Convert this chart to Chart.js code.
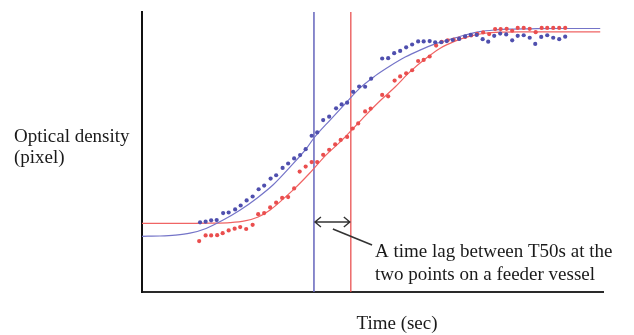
<!DOCTYPE html>
<html>
<head>
<meta charset="utf-8">
<script src="https://cdn.jsdelivr.net/npm/chart.js@4.4.0/dist/chart.umd.min.js"></script>
<style>
  html, body { margin: 0; padding: 0; background: #ffffff; }
  canvas { display: block; }
</style>
</head>
<body>
<canvas id="c" width="634" height="335"></canvas>
<script>
// ---- Data (time in arbitrary units 0..100, optical density 0..100) ----
const blueTime = [12.6,13.8,15.0,16.2,17.6,18.8,20.2,21.4,22.7,24.0,25.3,26.5,27.9,29.1,30.5,31.7,33.0,34.3,35.5,36.8,38.0,39.3,40.6,42.1,43.3,44.5,45.8,47.1,48.4,49.7,52.1,53.4,54.7,56.0,57.3,58.6,59.9,61.1,62.4,63.6,64.9,66.1,67.4,68.8,70.1,71.3,72.6,73.9,75.1,76.4,77.7,79.0,80.3,81.5,82.8,84.1,85.3,86.6,87.9,89.2,90.5,91.8];
const blueDensity = [24.9,25.1,25.6,25.7,28.2,28.4,29.5,30.9,32.7,34.1,36.7,38.0,40.5,41.7,44.3,45.9,47.7,48.9,51.0,55.8,57.0,61.4,62.6,65.6,67.0,67.6,71.5,73.4,73.3,76.2,83.4,83.5,85.3,86.1,87.4,88.4,89.5,89.5,89.6,89.2,89.2,89.6,90.0,90.4,91.3,91.8,91.8,90.3,89.4,91.5,92.3,92.0,89.9,91.5,91.7,90.8,88.6,91.1,91.7,90.8,90.3,91.2];
const redTime = [12.4,13.8,15.0,16.3,17.5,18.8,20.1,21.3,22.6,24.0,25.2,26.5,27.8,29.1,30.4,31.7,33.0,34.2,35.5,36.8,38.0,39.3,40.6,41.9,43.1,44.5,45.7,46.9,48.4,49.6,52.1,53.4,54.8,56.0,57.3,58.6,59.9,61.1,62.4,63.8,65.0,66.3,67.6,68.8,70.1,71.4,72.7,74.0,75.3,76.6,77.8,79.1,80.3,81.5,82.8,84.1,85.4,86.7,87.9,89.2,90.5,91.8];
const redDensity = [18.2,20.2,20.2,20.3,21.0,22.0,22.6,23.2,22.5,24.0,27.8,28.2,30.2,31.9,33.6,33.9,37.0,43.0,44.8,46.4,46.4,49.0,50.8,52.7,54.3,55.4,58.4,60.2,64.5,65.5,70.4,69.9,75.5,77.0,78.1,79.2,82.5,82.9,84.1,88.0,89.3,89.9,90.1,90.5,91.1,91.6,92.2,92.7,92.1,93.9,93.9,94.0,93.3,94.3,94.3,94.0,92.8,94.3,94.3,94.3,94.3,94.3];

// fitted curves
const blueFitTime = [0,3.9,7.2,10.4,13.9,17.6,21.3,25.0,28.4,32.1,35.6,37.3,40.8,44.0,47.3,50.5,53.8,57.1,60.3,63.6,66.8,70.1,73.3,76.6,79.8,84.2,90.7,99.4];
const blueFitDensity = [19.9,20.0,20.3,21.0,22.7,25.7,29.3,33.6,38.2,44.6,51.1,55.0,61.4,67.1,72.9,77.1,80.7,83.9,86.4,88.6,90.2,91.8,93.0,93.6,93.9,94.0,94.1,94.1];
const redFitTime = [0,8.2,14.8,19.1,22.3,25.2,27.8,30.4,33.2,36.4,39.9,43.0,45.3,48.4,51.6,54.9,58.1,61.4,64.6,67.9,71.2,74.4,77.7,82.0,90.7,99.4];
const redFitDensity = [24.5,24.5,24.6,24.8,25.4,26.8,29.3,32.9,37.1,42.5,48.9,53.6,57.5,62.9,68.2,73.2,78.6,83.2,87.0,89.6,91.4,92.4,92.8,92.9,92.9,92.9];

// T50 times of the two points
const t50Blue = 37.3;
const t50Red = 45.3;

const yLabelLines = ["Optical density", "(pixel)"];
const xLabel = "Time (sec)";
const noteLines = ["A time lag between T50s at the", "two points on a feeder vessel"];

const toPts = (xs, ys) => xs.map((x, i) => ({ x: x, y: ys[i] }));

const BLUE_DOT = '#4f4fae';
const RED_DOT = '#ea4e4e';
const BLUE_LINE = '#7474c8';
const RED_LINE = '#f06464';
const FONT = '19px "Liberation Serif", "Times New Roman", serif';

const annotations = {
  id: 'annotations',
  afterDatasetsDraw(chart) {
    const { ctx, scales: { x, y } } = chart;
    ctx.save();
    // double-headed arrow between T50 lines
    const ay = y.getPixelForValue(25.0);
    const x1 = x.getPixelForValue(t50Blue) + 1;
    const x2 = x.getPixelForValue(t50Red) - 1;
    ctx.strokeStyle = '#333333';
    ctx.lineWidth = 1.4;
    ctx.beginPath();
    ctx.moveTo(x1, ay); ctx.lineTo(x2, ay);
    ctx.moveTo(x1 + 6, ay - 5); ctx.lineTo(x1, ay); ctx.lineTo(x1 + 6, ay + 5);
    ctx.moveTo(x2 - 6, ay - 5); ctx.lineTo(x2, ay); ctx.lineTo(x2 - 6, ay + 5);
    ctx.stroke();
    // leader line
    ctx.lineWidth = 1.6;
    ctx.beginPath();
    ctx.moveTo(x.getPixelForValue(41.4), y.getPixelForValue(22.5));
    ctx.lineTo(x.getPixelForValue(49.9), y.getPixelForValue(16.8));
    ctx.stroke();
    // texts
    ctx.fillStyle = '#1a1a1a';
    ctx.font = FONT;
    ctx.textBaseline = 'middle';
    ctx.textAlign = 'left';
    ctx.fillText(noteLines[0], 375, 252);
    ctx.fillText(noteLines[1], 375, 275);
    ctx.fillText(yLabelLines[0], 14, 137);
    ctx.fillText(yLabelLines[1], 14, 158);
    ctx.textAlign = 'center';
    ctx.fillText(xLabel, 397, 324);
    ctx.restore();
  }
};

new Chart(document.getElementById('c'), {
  type: 'scatter',
  data: {
    datasets: [
      { data: toPts(blueTime, blueDensity), backgroundColor: BLUE_DOT, borderColor: BLUE_DOT, pointRadius: 2.1, pointBorderWidth: 0, showLine: false },
      { data: toPts(redTime, redDensity), backgroundColor: RED_DOT, borderColor: RED_DOT, pointRadius: 2.1, pointBorderWidth: 0, showLine: false },
      { data: toPts(blueFitTime, blueFitDensity), borderColor: BLUE_LINE, borderWidth: 1.2, pointRadius: 0, showLine: true, tension: 0.4, cubicInterpolationMode: 'monotone' },
      { data: toPts(redFitTime, redFitDensity), borderColor: RED_LINE, borderWidth: 1.2, pointRadius: 0, showLine: true, tension: 0.4, cubicInterpolationMode: 'monotone' },
      { data: [{ x: t50Blue, y: 0 }, { x: t50Blue, y: 100 }], borderColor: '#6464bc', borderWidth: 1.5, pointRadius: 0, showLine: true },
      { data: [{ x: t50Red, y: 0 }, { x: t50Red, y: 100 }], borderColor: '#e84444', borderWidth: 1.2, pointRadius: 0, showLine: true }
    ]
  },
  options: {
    responsive: false,
    devicePixelRatio: 1,
    animation: false,
    layout: { padding: { left: 142, right: 31, top: 12, bottom: 43 } },
    plugins: { legend: { display: false }, tooltip: { enabled: false } },
    scales: {
      x: {
        type: 'linear', min: 0, max: 100,
        grid: { display: false, drawTicks: false },
        ticks: { display: false },
        border: { display: true, color: '#2a2a2a', width: 2 }
      },
      y: {
        type: 'linear', min: 0, max: 100,
        grid: { display: false, drawTicks: false },
        ticks: { display: false },
        border: { display: true, color: '#111111', width: 2 }
      }
    }
  },
  plugins: [annotations]
});
</script>
</body>
</html>
